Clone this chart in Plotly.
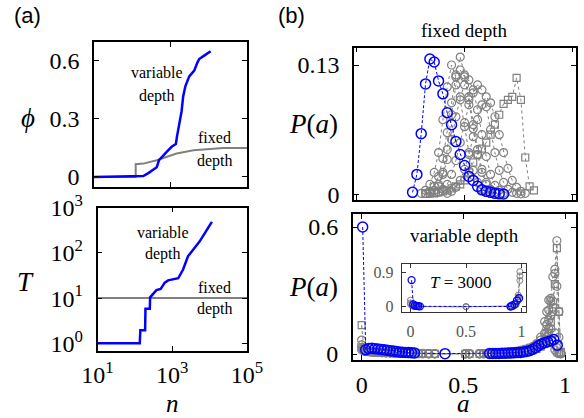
import plotly.graph_objects as go

W, H = 584, 418

# ---------------- data: panel (a) ----------------
n_phi_var = [10, 195, 263, 437, 501, 646, 794, 1072, 1380, 1479, 1660, 1950, 2138, 2455, 3090, 4169, 5012, 5623, 7943, 11220]
phi_var = [0.0, 0.005, 0.02, 0.05, 0.087, 0.112, 0.13, 0.156, 0.17, 0.21, 0.26, 0.34, 0.415, 0.47, 0.52, 0.55, 0.59, 0.61, 0.63, 0.65]
n_phi_fix = [10, 123, 123, 195, 437, 794, 1445, 3981, 13183, 23988, 100000]
phi_fix = [0.0, 0.0, 0.066, 0.069, 0.086, 0.104, 0.121, 0.138, 0.147, 0.15, 0.15]

n_T_var = [10, 135, 140, 188, 192, 251, 256, 378, 490, 631, 776, 1445, 1950, 2630, 5370, 11480]
T_var = [1, 1, 1.95, 1.95, 5.8, 5.8, 10.4, 15, 16, 22, 24.7, 27.5, 43, 84, 178, 488]
n_T_fix = [10, 100000]
T_fix = [10, 10]

# ---------------- data: panel (b) fixed depth ----------------
a_fix = [0.26, 0.28, 0.30, 0.32, 0.34, 0.36, 0.38, 0.40, 0.42, 0.44, 0.46, 0.48, 0.50, 0.52, 0.54,
         0.56, 0.58, 0.60, 0.62, 0.64, 0.66, 0.68, 0.70, 0.72, 0.74, 0.76, 0.78, 0.80, 0.82]
N = None
p_fix_blue = [0.002, 0.020, 0.061, 0.111, 0.136, 0.133, 0.114, 0.101, 0.082, 0.070, 0.053, 0.040, 0.029, 0.018,
              0.014, 0.008, 0.0045, 0.003, 0.002, 0.001, 0.0005, 0.0003, N, N, N, N, N, N, N]
p_fix_g1 = [N, N, 0.001, 0.004, 0.010, 0.022, 0.042, 0.075, 0.108, 0.130, 0.118, 0.095, 0.068, 0.042, 0.024,
            0.012, 0.005, 0.002, 0.001, N, N, N, N, N, N, N, N, N, N]
p_fix_g2 = [N, N, N, 0.001, 0.003, 0.008, 0.018, 0.036, 0.062, 0.092, 0.120, 0.138, 0.120, 0.095, 0.066,
            0.040, 0.022, 0.010, 0.004, 0.002, N, N, N, N, N, N, N, N, N]
p_fix_g3 = [N, N, N, N, 0.001, 0.004, 0.010, 0.020, 0.035, 0.055, 0.078, 0.098, 0.110, 0.115, 0.105,
            0.085, 0.060, 0.038, 0.020, 0.009, 0.004, 0.001, N, N, N, N, N, N, N]
p_fix_g4 = [N, N, N, N, N, N, 0.002, 0.005, 0.010, 0.020, 0.034, 0.052, 0.072, 0.090, 0.102,
            0.110, 0.105, 0.088, 0.065, 0.042, 0.024, 0.012, 0.005, 0.002, 0.001, 0.0005, N, N, N]
p_fix_g5 = [N, N, N, N, N, 0.002, 0.008, 0.022, 0.045, 0.080, 0.110, 0.125, 0.118, 0.098, 0.070,
            0.045, 0.025, 0.012, 0.005, 0.002, N, N, N, N, N, N, N, N, N]
p_fix_g6 = [N, N, N, N, N, N, N, N, 0.001, 0.003, 0.007, 0.014, 0.025, 0.040, 0.058,
            0.075, 0.090, 0.098, 0.092, 0.078, 0.060, 0.042, 0.026, 0.014, 0.007, 0.003, 0.001, N, N]
p_fix_sq = [N, N, N, 0.0005, 0.001, 0.001, 0.002, 0.003, 0.004, 0.006, 0.008, 0.010, 0.014, 0.022, 0.032,
            0.040, 0.046, 0.052, 0.060, 0.070, 0.080, 0.091, 0.095, 0.098, 0.117, 0.095, 0.037, 0.008, 0.004]

# ---------------- data: panel (b) variable depth ----------------
a_var_blue = [0.005, 0.02, 0.035, 0.05, 0.065, 0.08, 0.095, 0.11, 0.125, 0.14, 0.155, 0.17, 0.185, 0.20, 0.215,
              0.23, 0.245, 0.26, 0.41, 0.63, 0.645, 0.66, 0.675, 0.69, 0.705, 0.72, 0.735, 0.75, 0.765, 0.78,
              0.795, 0.81, 0.825, 0.84, 0.855, 0.87, 0.885, 0.90, 0.915, 0.93, 0.945, 0.962]
p_var_blue = [0.60, 0.020, 0.026, 0.027, 0.025, 0.024, 0.022, 0.020, 0.018, 0.016, 0.014, 0.012, 0.010, 0.009, 0.008,
              0.007, 0.006, 0.005, 0.002, 0.003, 0.003, 0.003, 0.003, 0.004, 0.004, 0.005, 0.005, 0.006, 0.007, 0.008,
              0.010, 0.012, 0.016, 0.022, 0.030, 0.040, 0.048, 0.054, 0.058, 0.062, 0.069, 0.042]

a_var_gray = [0, 0.01, 0.02, 0.04, 0.06, 0.08, 0.10, 0.12, 0.14, 0.16, 0.18, 0.20, 0.22, 0.24, 0.26, 0.28, 0.30,
              0.33, 0.36, 0.51, 0.53, 0.58, 0.60, 0.62, 0.64, 0.66, 0.68, 0.70, 0.72, 0.74, 0.76, 0.78, 0.80,
              0.82, 0.84, 0.86, 0.88, 0.90, 0.91, 0.92, 0.93, 0.94, 0.95, 0.96, 0.97, 0.98]
p_var_sq = [0.137, 0.03, 0.015, 0.010, 0.008, 0.007, 0.006, 0.005, 0.005, 0.004, 0.004, 0.003, 0.003, 0.003, 0.002,
            0.002, 0.002, 0.002, 0.001,
            0.001, 0.001, 0.001, 0.001, 0.002, 0.002, 0.002, 0.003, 0.003, 0.004, 0.005, 0.006, 0.008, 0.010,
            0.013, 0.018, 0.025, 0.035,
            0.05, 0.07, 0.10, 0.15, 0.22, 0.33, 0.50, 0.20, 0.01]
p_var_g1 = [0.066, 0.025, 0.018, 0.014, 0.012, 0.010, 0.009, 0.008, 0.007, 0.006, 0.005, 0.005, 0.004, 0.004, 0.003,
            0.003, 0.003, 0.002, 0.002,
            0.001, 0.001, 0.002, 0.002, 0.002, 0.003, 0.003, 0.004, 0.004, 0.005, 0.006, 0.008, 0.010, 0.012,
            0.016, 0.022, 0.030, 0.045,
            0.06, 0.08, 0.12, 0.18, 0.25, 0.40, 0.535, 0.20, 0.003]
p_var_g2 = [0.043, 0.02, 0.015, 0.012, 0.010, 0.009, 0.008, 0.007, 0.006, 0.005, 0.005, 0.004, 0.004, 0.003, 0.003,
            0.003, 0.002, 0.002, 0.002,
            0.001, 0.001, 0.001, 0.002, 0.002, 0.002, 0.003, 0.003, 0.004, 0.005, 0.006, 0.007, 0.009, 0.012,
            0.016, 0.022, 0.032, 0.05,
            0.07, 0.10, 0.16, 0.25, 0.365, 0.38, 0.32, 0.08, 0.004]
p_var_g3 = [0.03, 0.018, 0.014, 0.011, 0.009, 0.008, 0.007, 0.006, 0.006, 0.005, 0.004, 0.004, 0.003, 0.003, 0.003,
            0.002, 0.002, 0.002, 0.001,
            0.001, 0.001, 0.001, 0.002, 0.002, 0.003, 0.003, 0.004, 0.005, 0.006, 0.007, 0.009, 0.012, 0.016,
            0.022, 0.030, 0.045, 0.066,
            0.098, 0.14, 0.208, 0.263, 0.20, 0.10, 0.03, 0.005, 0.002]
p_var_g4 = [0.02, 0.015, 0.012, 0.010, 0.008, 0.007, 0.006, 0.005, 0.005, 0.004, 0.004, 0.003, 0.003, 0.003, 0.002,
            0.002, 0.002, 0.001, 0.001,
            0.001, 0.001, 0.002, 0.002, 0.003, 0.003, 0.004, 0.005, 0.006, 0.008, 0.010, 0.013, 0.017, 0.022,
            0.028, 0.035, 0.05, 0.08,
            0.153, 0.20, 0.255, 0.12, 0.06, 0.02, 0.006, 0.002, 0.001]

# inset T = 3000
a_in_blue = [0.01, 0.025, 0.04, 0.055, 0.07, 0.085, 0.90, 0.914, 0.936, 0.959, 0.978]
p_in_blue = [0.69, 0.06, 0.03, 0.02, 0.015, 0.01, 0.005, 0.026, 0.06, 0.16, 0.22]
a_in_gray = [0.0, 0.015, 0.03, 0.05, 0.07, 0.5, 0.90, 0.93, 0.95, 0.97, 0.985]
p_in_g1 = [0.17, 0.04, 0.02, 0.01, 0.005, 0.0, 0.005, 0.02, 0.08, 0.30, 0.91]
p_in_g2 = [0.10, 0.03, 0.015, 0.01, 0.005, 0.0, 0.005, 0.015, 0.06, 0.25, 0.80]
p_in_g3 = [0.06, 0.02, 0.01, 0.008, 0.004, 0.0, 0.004, 0.012, 0.05, 0.20, 0.68]

BLUE = "#0000ff"
GRAY = "#808080"
SERIF = "Liberation Serif"
BDASH = "3px,2px"


def px(x):
    return x / W


def py(y):
    return 1 - y / H


fig = go.Figure()

# panel (a) top
fig.add_trace(go.Scatter(x=n_phi_fix, y=phi_fix, mode="lines", line=dict(color=GRAY, width=2),
                         xaxis="x", yaxis="y", showlegend=False))
fig.add_trace(go.Scatter(x=n_phi_var, y=phi_var, mode="lines", line=dict(color=BLUE, width=2.5),
                         xaxis="x", yaxis="y", showlegend=False))
# panel (a) bottom
fig.add_trace(go.Scatter(x=n_T_fix, y=T_fix, mode="lines", line=dict(color=GRAY, width=2),
                         xaxis="x2", yaxis="y2", showlegend=False))
fig.add_trace(go.Scatter(x=n_T_var, y=T_var, mode="lines", line=dict(color=BLUE, width=2.5),
                         xaxis="x2", yaxis="y2", showlegend=False))

# panel (b) top
gcirc = dict(symbol="circle-open", size=8, color=GRAY, line=dict(width=1.2, color=GRAY))
for ser in [p_fix_g1, p_fix_g2, p_fix_g3, p_fix_g4, p_fix_g5, p_fix_g6]:
    fig.add_trace(go.Scatter(x=a_fix, y=ser, mode="lines+markers", marker=gcirc,
                             line=dict(color=GRAY, width=1, dash="dot"),
                             xaxis="x3", yaxis="y3", showlegend=False))
fig.add_trace(go.Scatter(x=a_fix, y=p_fix_sq, mode="lines+markers",
                         marker=dict(symbol="square-open", size=7, color=GRAY, line=dict(width=1.2, color=GRAY)),
                         line=dict(color=GRAY, width=1, dash="dot"),
                         xaxis="x3", yaxis="y3", showlegend=False))
bcirc = dict(symbol="circle-open", size=10, color=BLUE, line=dict(width=1.5, color=BLUE))
fig.add_trace(go.Scatter(x=a_fix, y=p_fix_blue, mode="lines+markers", marker=bcirc,
                         line=dict(color=BLUE, width=1, dash=BDASH),
                         xaxis="x3", yaxis="y3", showlegend=False))

# panel (b) bottom
for ser in [p_var_g1, p_var_g2, p_var_g3, p_var_g4]:
    fig.add_trace(go.Scatter(x=a_var_gray, y=ser, mode="lines+markers", marker=gcirc,
                             line=dict(color=GRAY, width=1, dash="dot"),
                             xaxis="x4", yaxis="y4", showlegend=False))
fig.add_trace(go.Scatter(x=a_var_gray, y=p_var_sq, mode="lines+markers",
                         marker=dict(symbol="square-open", size=7, color=GRAY, line=dict(width=1.2, color=GRAY)),
                         line=dict(color=GRAY, width=1, dash="dot"),
                         xaxis="x4", yaxis="y4", showlegend=False))
fig.add_trace(go.Scatter(x=a_var_blue, y=p_var_blue, mode="lines+markers", marker=bcirc,
                         line=dict(color=BLUE, width=1, dash=BDASH),
                         xaxis="x4", yaxis="y4", showlegend=False))

# inset
gsmall = dict(symbol="circle-open", size=6, color=GRAY, line=dict(width=1, color=GRAY))
for ser in [p_in_g1, p_in_g2, p_in_g3]:
    fig.add_trace(go.Scatter(x=a_in_gray, y=ser, mode="lines+markers", marker=gsmall,
                             line=dict(color=GRAY, width=1, dash="dot"),
                             xaxis="x5", yaxis="y5", showlegend=False))
fig.add_trace(go.Scatter(x=a_in_blue, y=p_in_blue, mode="lines+markers",
                         marker=dict(symbol="circle-open", size=7, color=BLUE, line=dict(width=1.3, color=BLUE)),
                         line=dict(color=BLUE, width=1, dash=BDASH),
                         xaxis="x5", yaxis="y5", showlegend=False))

tickfont = dict(family=SERIF, size=24, color="black")
common = dict(showline=True, linecolor="black", linewidth=1.5, mirror="allticks", ticks="inside",
              ticklen=5, tickwidth=1.2, tickcolor="black", showgrid=False, zeroline=False,
              tickfont=tickfont, ticklabelstandoff=8, automargin=False)
xcommon = dict(common)
xcommon.update(ticklabelstandoff=2)

logticks = [10, 1000, 100000]
logtext = ["10<sup>1</sup>", "10<sup>3</sup>", "10<sup>5</sup>"]

fig.update_layout(
    template="none",
    width=W, height=H, margin=dict(l=0, r=0, t=0, b=0, pad=0),
    paper_bgcolor="white", plot_bgcolor="rgba(0,0,0,0)",
    font=dict(family=SERIF),
    xaxis=dict(domain=[px(94), px(247)], type="log", range=[1, 5], tickvals=logticks,
               showticklabels=False, anchor="y", **xcommon),
    yaxis=dict(domain=[py(187), py(42)], range=[-0.052, 0.698], tickvals=[0, 0.3, 0.6],
               ticktext=["0", "0.3", "0.6"], anchor="x", **common),
    xaxis2=dict(domain=[px(97.5), px(247)], type="log", range=[1, 5], tickvals=logticks,
                ticktext=logtext, anchor="y2", **xcommon),
    yaxis2=dict(domain=[py(350.7), py(207.7)], type="log", range=[-0.164, 3.001],
                tickvals=[1, 10, 100, 1000],
                ticktext=["10<sup>0</sup>", "10<sup>1</sup>", "10<sup>2</sup>", "10<sup>3</sup>"],
                anchor="x2", **common),
    xaxis3=dict(domain=[px(354), px(576)], range=[-0.01, 1.014], tickvals=[0, 0.5, 1],
                showticklabels=False, anchor="y3", **xcommon),
    yaxis3=dict(domain=[py(200), py(47.7)], range=[-0.0057, 0.1474], tickvals=[0, 0.13],
                ticktext=["0", "0.13"], anchor="x3", **common),
    xaxis4=dict(domain=[px(352.7), px(576)], range=[-0.044, 1.054], tickvals=[0, 0.5, 1],
                ticktext=["0", "0.5", "1"], anchor="y4", **xcommon),
    yaxis4=dict(domain=[py(360), py(214.3)], range=[-0.028, 0.66], tickvals=[0, 0.6],
                ticktext=["0", "0.6"], anchor="x4", **common),
)

inset_common = dict(common)
inset_common.update(tickfont=dict(family=SERIF, size=16, color="#555555"), linecolor="#333333",
                    linewidth=1.2, ticklen=4, tickcolor="#333333", ticklabelstandoff=4)
fig.update_layout(
    xaxis5=dict(domain=[px(401.7), px(526)], range=[-0.079, 1.04], tickvals=[0, 0.5, 1],
                ticktext=["0", "0.5", "1"], anchor="y5", **inset_common),
    yaxis5=dict(domain=[py(312.3), py(264.3)], range=[-0.145, 1.1], tickvals=[0, 0.9],
                ticktext=["0", "0.9"], anchor="x5", **inset_common),
)


def ann(text, x, y, size, family=SERIF, color="black"):
    fig.add_annotation(text=text, x=px(x), y=py(y), xref="paper", yref="paper", showarrow=False,
                       xanchor="center", yanchor="middle", font=dict(family=family, size=size, color=color))


ann("(a)", 27, 16, 22, family="Liberation Sans")
ann("(b)", 291, 15, 22, family="Liberation Sans")
ann("<i>ϕ</i>", 28, 118, 27)
ann("<i>T</i>", 25, 282, 27)
ann("<i>P</i>(<i>a</i>)", 313, 124, 27)
ann("<i>P</i>(<i>a</i>)", 313, 287, 27)
ann("<i>n</i>", 172, 403, 25)
ann("<i>a</i>", 463, 403, 25)
ann("variable", 157, 73, 16)
ann("depth", 157, 96, 16)
ann("fixed", 215, 137, 16)
ann("depth", 215, 161, 16)
ann("variable", 163, 232, 16)
ann("depth", 163, 254, 16)
ann("fixed", 215, 287, 16)
ann("depth", 215, 309, 16)
ann("fixed depth", 464, 30, 19)
ann("variable depth", 464, 236, 19)
ann("<i>T</i> = 3000", 461, 282, 17)

fig.write_html("out.html", config={"displayModeBar": False},
               post_script="document.body.style.margin='0';document.body.style.overflow='hidden';")
